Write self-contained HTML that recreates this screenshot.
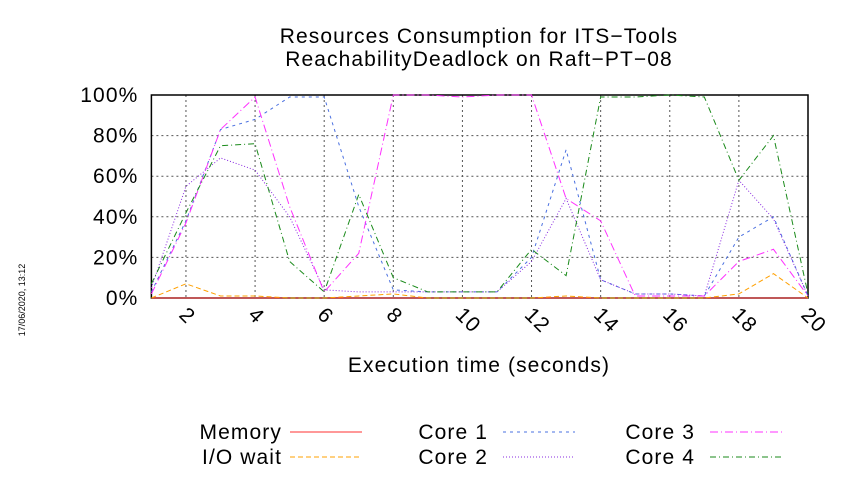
<!DOCTYPE html>
<html><head><meta charset="utf-8"><style>body{margin:0;background:#fff}svg text{font-family:"Liberation Sans",sans-serif;letter-spacing:1.1px}</style></head>
<body>
<svg width="850" height="475" viewBox="0 0 850 475">
<text x="479" y="43" font-size="21" text-anchor="middle">Resources Consumption for ITS−Tools</text>
<text x="479" y="66" font-size="21" text-anchor="middle">ReachabilityDeadlock on Raft−PT−08</text>
<text transform="translate(25,300) rotate(-90)" font-size="9" text-anchor="middle" style="letter-spacing:0">17/06/2020, 13:12</text>
<g id="grid"></g><g id="axes"></g><g id="series"></g>
<text x="479" y="372" font-size="21" text-anchor="middle">Execution time (seconds)</text>
<g id="legend"></g>
</svg>
<script>
const times=[1,2,3,4,5,6,7,8,9,10,11,12,13,14,15,16,17,18,19,20];
const memory=[0,0,0,0,0,0,0,0,0,0,0,0,0,0,0,0,0,0,0,0];
const iowait=[0,7,1,1,0,0,1,2,0,0,0,0,1,0,0,0,0,2,12,0];
const core1=[3,38,83,88,99,99,45,4,3,3,3,20,73,9,2,2,1,30,40,1];
const core2=[5,55,69,63,40,4,3,3,3,3,3,18,49,9,2,2,1,58,39,1];
const core3=[2,37,83,99,45,3,22,100,100,99,100,100,49,38,1,1,1,18,24,1];
const core4=[7,42,75,76,18,3,51,10,3,3,3,24,11,99,99,100,99,58,80,2];
const yTicks=[0,20,40,60,80,100];
const xTicks=[2,4,6,8,10,12,14,16,18,20];
const NS="http://www.w3.org/2000/svg";
const X0=151.4,X1=808,Y0=298,Y1=95;
const xs=t=>X0+(t-1)*(X1-X0)/19, ys=v=>Y0-v*(Y0-Y1)/100;
function mk(tag,attrs,parent){const e=document.createElementNS(NS,tag);for(const k in attrs)e.setAttribute(k,attrs[k]);document.getElementById(parent).appendChild(e);return e;}
yTicks.forEach(v=>{
 const l=mk('line',{x1:X0,x2:X1,y1:ys(v),y2:ys(v),stroke:'#555','stroke-dasharray':'2,3','stroke-width':1},'grid');
 
 
 const t=mk('text',{x:X0-13,y:ys(v)+7,'font-size':21,'text-anchor':'end'},'axes');t.textContent=v+'%';
 
 
});
xTicks.forEach(v=>{
 const l=mk('line',{x1:xs(v),x2:xs(v),y1:Y1,y2:Y0,stroke:'#555','stroke-dasharray':'2,3','stroke-width':1},'grid');
 
 
 const t=mk('text',{transform:`translate(${xs(v)-8},${Y0+18}) rotate(45)`,'font-size':21},'axes');t.textContent=v;
 
 
});
const fr=mk('rect',{x:X0,y:Y1,width:X1-X0,height:Y0-Y1,fill:'none',stroke:'#000','stroke-width':1.5},'axes');


const series=[
 ['Memory',memory,'#ff3030','',[290,432,282]],
 ['I/O wait',iowait,'#ffa000','5,3',[290,457,282]],
 ['Core 1',core1,'#4a70e0','3,4',[503,432,488]],
 ['Core 2',core2,'#8a2be2','1,2',[503,457,488]],
 ['Core 3',core3,'#ff30ff','8,3,1,3',[710,432,695]],
 ['Core 4',core4,'#1a8a1a','6,3,1,3',[710,457,695]]];
series.forEach(([name,d,c,da,lg])=>{
 const p=mk('polyline',{points:d.map((v,i)=>xs(times[i])+','+ys(v)).join(' '),fill:'none',stroke:c,'stroke-width':1,'stroke-dasharray':da},'series');
 
 
 const t=mk('text',{x:lg[2],y:lg[1]+7,'font-size':21,'text-anchor':'end'},'legend');t.textContent=name;
 
 
 const l=mk('line',{x1:lg[0],x2:lg[0]+72,y1:lg[1],y2:lg[1],stroke:c,'stroke-width':1,'stroke-dasharray':da},'legend');
 
 
});
</script>
</body></html>
